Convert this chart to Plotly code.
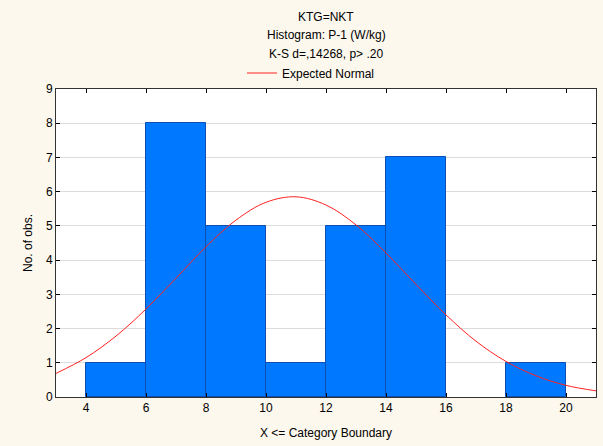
import plotly.graph_objects as go

# Histogram data
bin_left = [4, 6, 8, 10, 12, 14, 16, 18]
bin_width = 2
counts = [1, 8, 5, 1, 5, 7, 0, 1]

# Expected normal curve
curve_x = [3, 4, 5, 6, 7, 8, 9, 10, 11, 12, 13, 14, 15, 16, 17, 18, 19, 20, 21]
curve_y = [0.69, 1.15, 1.78, 2.57, 3.47, 4.39, 5.17, 5.69, 5.85, 5.61, 5.03,
           4.21, 3.29, 2.40, 1.63, 1.04, 0.62, 0.34, 0.18]

x_ticks = [4, 6, 8, 10, 12, 14, 16, 18, 20]
y_ticks = list(range(0, 10))

title_lines = ["KTG=NKT", "Histogram: P-1 (W/kg)", "K-S d=,14268, p> .20"]

FONT = "Liberation Sans, Arial, sans-serif"
W, H, L, R, T, B = 603, 446, 56, 7, 89, 49
PH = H - T - B
PW = W - L - R


def py(ypx):
    return 1 + (T - ypx) / PH


def px(xpx):
    return (xpx - L) / PW


fig = go.Figure()
fig.add_trace(go.Bar(
    x=[b + bin_width / 2 for b in bin_left], y=counts, width=bin_width,
    marker=dict(color="#0078FF",
                line=dict(color="#0B4FB5", width=[1 if c > 0 else 0 for c in counts])),
    showlegend=False, hoverinfo="skip"))
fig.add_trace(go.Scatter(
    x=curve_x, y=curve_y, mode="lines", name="Expected Normal",
    line=dict(color="#FF2020", width=1, shape="spline")))

for txt, ypx in zip(title_lines, [17, 35, 54]):
    fig.add_annotation(text=txt, xref="paper", yref="paper", x=0.5, y=py(ypx),
                       xanchor="center", yanchor="middle", showarrow=False,
                       font=dict(family=FONT, size=12, color="#000"))

fig.update_layout(
    width=W, height=H,
    paper_bgcolor="#FDF8EE", plot_bgcolor="#FFFFFF",
    margin=dict(l=L, r=R, t=T, b=B),
    font=dict(family=FONT, size=12, color="#000000"),
    bargap=0,
    legend=dict(x=px(242), xanchor="left", y=py(73), yanchor="middle",
                orientation="h", bgcolor="rgba(0,0,0,0)", itemwidth=30,
                font=dict(family=FONT, size=12)),
    xaxis=dict(range=[3, 21], tickvals=x_ticks, showgrid=False, automargin=False,
               ticks="inside", ticklen=4, tickcolor="#000",
               showline=True, linecolor="#333", linewidth=1, mirror="ticks",
               zeroline=False,
               title=dict(text="X <= Category Boundary", standoff=14,
                          font=dict(family=FONT, size=12))),
    yaxis=dict(range=[0, 9], tickvals=y_ticks, showgrid=True, automargin=False,
               gridcolor="#DCDCDC", gridwidth=1,
               ticks="inside", ticklen=4, tickcolor="#000",
               showline=True, linecolor="#333", linewidth=1, mirror="ticks",
               zeroline=False,
               title=dict(text="No. of obs.", standoff=10,
                          font=dict(family=FONT, size=12))),
)

fig.write_html(
    "out.html",
    config={"displayModeBar": False},
    post_script="document.body.style.margin='0';document.body.style.overflow='hidden';"
                "document.body.style.background='#FDF8EE';")
